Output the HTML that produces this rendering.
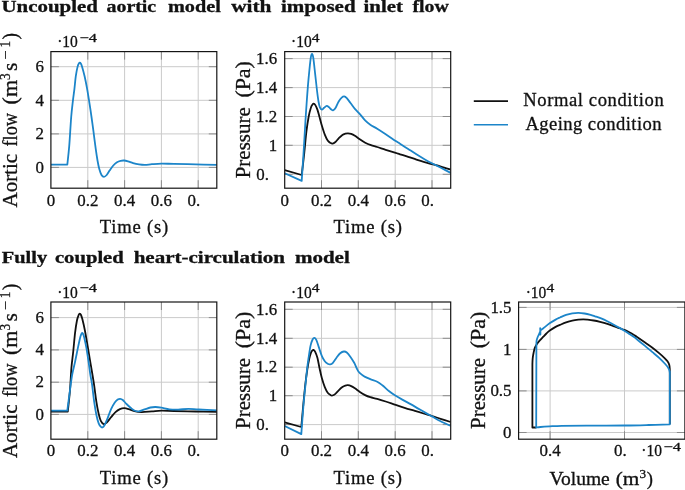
<!DOCTYPE html>
<html><head><meta charset="utf-8"><title>Aortic model figures</title>
<style>html,body{margin:0;padding:0;background:#fff}svg{display:block}text{filter:grayscale(1);stroke:#111;stroke-width:0.3px}text{font-family:"Liberation Serif",serif;fill:#111}</style>
</head><body>
<svg width="685" height="490" viewBox="0 0 685 490">
<rect width="685" height="490" fill="#fff"/>
<text x="1.50" y="12.40" font-size="16.50" font-weight="bold" textLength="96.40" lengthAdjust="spacingAndGlyphs">Uncoupled</text>
<text x="106.60" y="12.40" font-size="16.50" font-weight="bold" textLength="49.60" lengthAdjust="spacingAndGlyphs">aortic</text>
<text x="167.90" y="12.40" font-size="16.50" font-weight="bold" textLength="52.90" lengthAdjust="spacingAndGlyphs">model</text>
<text x="231.20" y="12.40" font-size="16.50" font-weight="bold" textLength="40.30" lengthAdjust="spacingAndGlyphs">with</text>
<text x="280.90" y="12.40" font-size="16.50" font-weight="bold" textLength="74.70" lengthAdjust="spacingAndGlyphs">imposed</text>
<text x="363.60" y="12.40" font-size="16.50" font-weight="bold" textLength="39.30" lengthAdjust="spacingAndGlyphs">inlet</text>
<text x="412.50" y="12.40" font-size="16.50" font-weight="bold" textLength="36.30" lengthAdjust="spacingAndGlyphs">flow</text>
<text x="1.80" y="262.50" font-size="16.50" font-weight="bold" textLength="45.30" lengthAdjust="spacingAndGlyphs">Fully</text>
<text x="54.90" y="262.50" font-size="16.50" font-weight="bold" textLength="68.90" lengthAdjust="spacingAndGlyphs">coupled</text>
<text x="133.70" y="262.50" font-size="16.50" font-weight="bold" textLength="151.30" lengthAdjust="spacingAndGlyphs">heart-circulation</text>
<text x="294.90" y="262.50" font-size="16.50" font-weight="bold" textLength="54.90" lengthAdjust="spacingAndGlyphs">model</text>
<clipPath id="c1"><rect x="50.90" y="51.60" width="165.90" height="136.60"/></clipPath>
<line x1="87.80" y1="51.60" x2="87.80" y2="188.20" stroke="#cacaca" stroke-width="1"/>
<line x1="124.60" y1="51.60" x2="124.60" y2="188.20" stroke="#cacaca" stroke-width="1"/>
<line x1="161.40" y1="51.60" x2="161.40" y2="188.20" stroke="#cacaca" stroke-width="1"/>
<line x1="198.20" y1="51.60" x2="198.20" y2="188.20" stroke="#cacaca" stroke-width="1"/>
<line x1="50.90" y1="66.70" x2="216.80" y2="66.70" stroke="#cacaca" stroke-width="1"/>
<line x1="50.90" y1="100.30" x2="216.80" y2="100.30" stroke="#cacaca" stroke-width="1"/>
<line x1="50.90" y1="133.90" x2="216.80" y2="133.90" stroke="#cacaca" stroke-width="1"/>
<line x1="50.90" y1="167.40" x2="216.80" y2="167.40" stroke="#cacaca" stroke-width="1"/>
<line x1="87.80" y1="51.60" x2="87.80" y2="59.60" stroke="#8c8c8c" stroke-width="1"/>
<line x1="87.80" y1="188.20" x2="87.80" y2="180.20" stroke="#8c8c8c" stroke-width="1"/>
<line x1="124.60" y1="51.60" x2="124.60" y2="59.60" stroke="#8c8c8c" stroke-width="1"/>
<line x1="124.60" y1="188.20" x2="124.60" y2="180.20" stroke="#8c8c8c" stroke-width="1"/>
<line x1="161.40" y1="51.60" x2="161.40" y2="59.60" stroke="#8c8c8c" stroke-width="1"/>
<line x1="161.40" y1="188.20" x2="161.40" y2="180.20" stroke="#8c8c8c" stroke-width="1"/>
<line x1="198.20" y1="51.60" x2="198.20" y2="59.60" stroke="#8c8c8c" stroke-width="1"/>
<line x1="198.20" y1="188.20" x2="198.20" y2="180.20" stroke="#8c8c8c" stroke-width="1"/>
<line x1="50.90" y1="66.70" x2="58.90" y2="66.70" stroke="#8c8c8c" stroke-width="1"/>
<line x1="216.80" y1="66.70" x2="208.80" y2="66.70" stroke="#8c8c8c" stroke-width="1"/>
<line x1="50.90" y1="100.30" x2="58.90" y2="100.30" stroke="#8c8c8c" stroke-width="1"/>
<line x1="216.80" y1="100.30" x2="208.80" y2="100.30" stroke="#8c8c8c" stroke-width="1"/>
<line x1="50.90" y1="133.90" x2="58.90" y2="133.90" stroke="#8c8c8c" stroke-width="1"/>
<line x1="216.80" y1="133.90" x2="208.80" y2="133.90" stroke="#8c8c8c" stroke-width="1"/>
<line x1="50.90" y1="167.40" x2="58.90" y2="167.40" stroke="#8c8c8c" stroke-width="1"/>
<line x1="216.80" y1="167.40" x2="208.80" y2="167.40" stroke="#8c8c8c" stroke-width="1"/>
<path d="M50.90 164.70C53.63 164.70 64.57 164.70 67.30 164.70C67.62 161.65 68.55 154.35 69.20 146.40C69.85 138.45 70.58 124.60 71.20 117.00C71.82 109.40 72.37 105.45 72.90 100.80C73.43 96.15 73.92 93.20 74.40 89.10C74.88 85.00 75.27 79.95 75.80 76.20C76.33 72.45 77.10 68.70 77.60 66.60C78.10 64.50 78.43 64.25 78.80 63.60C79.17 62.95 79.47 62.72 79.80 62.70C80.13 62.68 80.43 62.88 80.80 63.50C81.17 64.12 81.37 64.28 82.00 66.40C82.63 68.52 83.78 72.67 84.60 76.20C85.42 79.73 86.15 83.50 86.90 87.60C87.65 91.70 88.33 95.90 89.10 100.80C89.87 105.70 90.77 111.85 91.50 117.00C92.23 122.15 92.80 126.43 93.50 131.70C94.20 136.97 95.02 143.72 95.70 148.60C96.38 153.48 97.00 157.58 97.60 161.00C98.20 164.42 98.65 166.77 99.30 169.10C99.95 171.43 100.72 173.72 101.50 175.00C102.28 176.28 103.13 176.80 104.00 176.80C104.87 176.80 105.77 176.03 106.70 175.00C107.63 173.97 108.50 172.18 109.60 170.60C110.70 169.02 112.07 166.90 113.30 165.50C114.53 164.10 115.78 162.98 117.00 162.20C118.22 161.42 119.43 161.08 120.60 160.80C121.77 160.52 122.77 160.42 124.00 160.50C125.23 160.58 126.48 160.87 128.00 161.30C129.52 161.73 131.27 162.58 133.10 163.10C134.93 163.62 137.03 164.10 139.00 164.40C140.97 164.70 142.75 164.93 144.90 164.90C147.05 164.87 149.15 164.42 151.90 164.20C154.65 163.98 157.75 163.65 161.40 163.60C165.05 163.55 168.08 163.77 173.80 163.90C179.52 164.03 188.50 164.25 195.70 164.40C202.90 164.55 213.45 164.73 217.00 164.80" fill="none" stroke="#1c85c9" stroke-width="1.80" stroke-linejoin="round" stroke-linecap="butt" clip-path="url(#c1)"/>
<rect x="50.90" y="51.60" width="165.90" height="136.60" fill="none" stroke="#141414" stroke-width="1.2"/>
<clipPath id="c2"><rect x="284.70" y="51.60" width="166.00" height="136.60"/></clipPath>
<line x1="321.50" y1="51.60" x2="321.50" y2="188.20" stroke="#cacaca" stroke-width="1"/>
<line x1="358.30" y1="51.60" x2="358.30" y2="188.20" stroke="#cacaca" stroke-width="1"/>
<line x1="395.20" y1="51.60" x2="395.20" y2="188.20" stroke="#cacaca" stroke-width="1"/>
<line x1="432.00" y1="51.60" x2="432.00" y2="188.20" stroke="#cacaca" stroke-width="1"/>
<line x1="284.70" y1="58.60" x2="450.70" y2="58.60" stroke="#cacaca" stroke-width="1"/>
<line x1="284.70" y1="87.60" x2="450.70" y2="87.60" stroke="#cacaca" stroke-width="1"/>
<line x1="284.70" y1="116.50" x2="450.70" y2="116.50" stroke="#cacaca" stroke-width="1"/>
<line x1="284.70" y1="145.30" x2="450.70" y2="145.30" stroke="#cacaca" stroke-width="1"/>
<line x1="284.70" y1="174.30" x2="450.70" y2="174.30" stroke="#cacaca" stroke-width="1"/>
<line x1="321.50" y1="51.60" x2="321.50" y2="59.60" stroke="#8c8c8c" stroke-width="1"/>
<line x1="321.50" y1="188.20" x2="321.50" y2="180.20" stroke="#8c8c8c" stroke-width="1"/>
<line x1="358.30" y1="51.60" x2="358.30" y2="59.60" stroke="#8c8c8c" stroke-width="1"/>
<line x1="358.30" y1="188.20" x2="358.30" y2="180.20" stroke="#8c8c8c" stroke-width="1"/>
<line x1="395.20" y1="51.60" x2="395.20" y2="59.60" stroke="#8c8c8c" stroke-width="1"/>
<line x1="395.20" y1="188.20" x2="395.20" y2="180.20" stroke="#8c8c8c" stroke-width="1"/>
<line x1="432.00" y1="51.60" x2="432.00" y2="59.60" stroke="#8c8c8c" stroke-width="1"/>
<line x1="432.00" y1="188.20" x2="432.00" y2="180.20" stroke="#8c8c8c" stroke-width="1"/>
<line x1="284.70" y1="58.60" x2="292.70" y2="58.60" stroke="#8c8c8c" stroke-width="1"/>
<line x1="450.70" y1="58.60" x2="442.70" y2="58.60" stroke="#8c8c8c" stroke-width="1"/>
<line x1="284.70" y1="87.60" x2="292.70" y2="87.60" stroke="#8c8c8c" stroke-width="1"/>
<line x1="450.70" y1="87.60" x2="442.70" y2="87.60" stroke="#8c8c8c" stroke-width="1"/>
<line x1="284.70" y1="116.50" x2="292.70" y2="116.50" stroke="#8c8c8c" stroke-width="1"/>
<line x1="450.70" y1="116.50" x2="442.70" y2="116.50" stroke="#8c8c8c" stroke-width="1"/>
<line x1="284.70" y1="145.30" x2="292.70" y2="145.30" stroke="#8c8c8c" stroke-width="1"/>
<line x1="450.70" y1="145.30" x2="442.70" y2="145.30" stroke="#8c8c8c" stroke-width="1"/>
<line x1="284.70" y1="174.30" x2="292.70" y2="174.30" stroke="#8c8c8c" stroke-width="1"/>
<line x1="450.70" y1="174.30" x2="442.70" y2="174.30" stroke="#8c8c8c" stroke-width="1"/>
<path d="M284.70 170.20L301.70 175.00C302.12 171.45 303.42 160.92 304.20 153.70C304.98 146.48 305.67 137.82 306.40 131.70C307.13 125.58 307.87 120.93 308.60 117.00C309.33 113.07 310.17 110.15 310.80 108.10C311.43 106.05 311.90 105.43 312.40 104.70C312.90 103.97 313.33 103.67 313.80 103.70C314.27 103.73 314.60 103.92 315.20 104.90C315.80 105.88 316.68 107.58 317.40 109.60C318.12 111.62 318.75 114.30 319.50 117.00C320.25 119.70 321.02 122.87 321.90 125.80C322.78 128.73 323.83 132.15 324.80 134.60C325.77 137.05 326.72 139.08 327.70 140.50C328.68 141.92 329.88 142.58 330.70 143.10C331.52 143.62 331.87 143.73 332.60 143.60C333.33 143.47 334.08 143.18 335.10 142.30C336.12 141.42 337.48 139.53 338.70 138.30C339.92 137.07 341.30 135.67 342.40 134.90C343.50 134.13 344.37 133.97 345.30 133.70C346.23 133.43 347.02 133.27 348.00 133.30C348.98 133.33 350.05 133.48 351.20 133.90C352.35 134.32 353.55 134.95 354.90 135.80C356.25 136.65 357.58 137.85 359.30 139.00C361.02 140.15 363.25 141.67 365.20 142.70C367.15 143.73 369.00 144.48 371.00 145.20C373.00 145.92 374.75 146.23 377.20 147.00C379.65 147.77 382.62 148.82 385.70 149.80C388.78 150.78 393.32 152.15 395.70 152.90C398.08 153.65 397.92 153.65 400.00 154.30C402.08 154.95 405.47 155.92 408.20 156.80C410.93 157.68 413.68 158.72 416.40 159.60C419.12 160.48 421.92 161.35 424.50 162.10C427.08 162.85 429.17 163.35 431.90 164.10C434.63 164.85 437.77 165.67 440.90 166.60C444.03 167.53 449.07 169.18 450.70 169.70" fill="none" stroke="#111111" stroke-width="1.80" stroke-linejoin="round" stroke-linecap="butt" clip-path="url(#c2)"/>
<path d="M284.70 173.20L301.70 180.90C302.00 176.37 302.95 162.40 303.50 153.70C304.05 145.00 304.63 134.82 305.00 128.70C305.37 122.58 305.43 121.17 305.70 117.00C305.97 112.83 306.23 108.85 306.60 103.70C306.97 98.55 307.43 91.72 307.90 86.10C308.37 80.48 308.92 74.73 309.40 70.00C309.88 65.27 310.37 60.37 310.80 57.70C311.23 55.03 311.58 53.97 312.00 54.00C312.42 54.03 312.77 54.50 313.30 57.90C313.83 61.30 314.58 68.97 315.20 74.40C315.82 79.83 316.45 85.98 317.00 90.50C317.55 95.02 318.02 98.68 318.50 101.50C318.98 104.32 319.33 106.05 319.90 107.40C320.47 108.75 321.20 109.53 321.90 109.60C322.60 109.67 323.30 108.42 324.10 107.80C324.90 107.18 325.85 105.97 326.70 105.90C327.55 105.83 328.42 106.78 329.20 107.40C329.98 108.02 330.73 109.12 331.40 109.60C332.07 110.08 332.47 110.67 333.20 110.30C333.93 109.93 334.88 108.87 335.80 107.40C336.72 105.93 337.72 103.13 338.70 101.50C339.68 99.87 340.78 98.45 341.70 97.60C342.62 96.75 343.35 96.30 344.20 96.40C345.05 96.50 345.75 97.10 346.80 98.20C347.85 99.30 349.15 101.22 350.50 103.00C351.85 104.78 353.23 106.93 354.90 108.90C356.57 110.87 358.80 112.88 360.50 114.80C362.20 116.72 363.47 118.75 365.10 120.40C366.73 122.05 368.28 123.32 370.30 124.70C372.32 126.08 374.63 127.12 377.20 128.70C379.77 130.28 382.62 132.15 385.70 134.20C388.78 136.25 393.32 139.42 395.70 141.00C398.08 142.58 397.92 142.37 400.00 143.70C402.08 145.03 405.47 147.23 408.20 149.00C410.93 150.77 413.68 152.60 416.40 154.30C419.12 156.00 421.92 157.70 424.50 159.20C427.08 160.70 430.12 162.35 431.90 163.30C433.68 164.25 433.70 164.15 435.20 164.90C436.70 165.65 438.32 166.47 440.90 167.80C443.48 169.13 449.07 172.05 450.70 172.90" fill="none" stroke="#1c85c9" stroke-width="1.80" stroke-linejoin="round" stroke-linecap="butt" clip-path="url(#c2)"/>
<rect x="284.70" y="51.60" width="166.00" height="136.60" fill="none" stroke="#141414" stroke-width="1.2"/>
<clipPath id="c3"><rect x="50.90" y="302.00" width="165.90" height="137.20"/></clipPath>
<line x1="87.80" y1="302.00" x2="87.80" y2="439.20" stroke="#cacaca" stroke-width="1"/>
<line x1="124.60" y1="302.00" x2="124.60" y2="439.20" stroke="#cacaca" stroke-width="1"/>
<line x1="161.40" y1="302.00" x2="161.40" y2="439.20" stroke="#cacaca" stroke-width="1"/>
<line x1="198.20" y1="302.00" x2="198.20" y2="439.20" stroke="#cacaca" stroke-width="1"/>
<line x1="50.90" y1="317.60" x2="216.80" y2="317.60" stroke="#cacaca" stroke-width="1"/>
<line x1="50.90" y1="349.90" x2="216.80" y2="349.90" stroke="#cacaca" stroke-width="1"/>
<line x1="50.90" y1="382.20" x2="216.80" y2="382.20" stroke="#cacaca" stroke-width="1"/>
<line x1="50.90" y1="414.40" x2="216.80" y2="414.40" stroke="#cacaca" stroke-width="1"/>
<line x1="87.80" y1="302.00" x2="87.80" y2="310.00" stroke="#8c8c8c" stroke-width="1"/>
<line x1="87.80" y1="439.20" x2="87.80" y2="431.20" stroke="#8c8c8c" stroke-width="1"/>
<line x1="124.60" y1="302.00" x2="124.60" y2="310.00" stroke="#8c8c8c" stroke-width="1"/>
<line x1="124.60" y1="439.20" x2="124.60" y2="431.20" stroke="#8c8c8c" stroke-width="1"/>
<line x1="161.40" y1="302.00" x2="161.40" y2="310.00" stroke="#8c8c8c" stroke-width="1"/>
<line x1="161.40" y1="439.20" x2="161.40" y2="431.20" stroke="#8c8c8c" stroke-width="1"/>
<line x1="198.20" y1="302.00" x2="198.20" y2="310.00" stroke="#8c8c8c" stroke-width="1"/>
<line x1="198.20" y1="439.20" x2="198.20" y2="431.20" stroke="#8c8c8c" stroke-width="1"/>
<line x1="50.90" y1="317.60" x2="58.90" y2="317.60" stroke="#8c8c8c" stroke-width="1"/>
<line x1="216.80" y1="317.60" x2="208.80" y2="317.60" stroke="#8c8c8c" stroke-width="1"/>
<line x1="50.90" y1="349.90" x2="58.90" y2="349.90" stroke="#8c8c8c" stroke-width="1"/>
<line x1="216.80" y1="349.90" x2="208.80" y2="349.90" stroke="#8c8c8c" stroke-width="1"/>
<line x1="50.90" y1="382.20" x2="58.90" y2="382.20" stroke="#8c8c8c" stroke-width="1"/>
<line x1="216.80" y1="382.20" x2="208.80" y2="382.20" stroke="#8c8c8c" stroke-width="1"/>
<line x1="50.90" y1="414.40" x2="58.90" y2="414.40" stroke="#8c8c8c" stroke-width="1"/>
<line x1="216.80" y1="414.40" x2="208.80" y2="414.40" stroke="#8c8c8c" stroke-width="1"/>
<path d="M50.90 411.60L67.80 411.60C68.17 408.00 69.40 397.27 70.00 390.00C70.60 382.73 70.87 374.37 71.40 368.00C71.93 361.63 72.58 357.68 73.20 351.80C73.82 345.92 74.47 337.95 75.10 332.70C75.73 327.45 76.42 323.22 77.00 320.30C77.58 317.38 78.13 316.30 78.60 315.20C79.07 314.10 79.40 313.73 79.80 313.70C80.20 313.67 80.57 314.07 81.00 315.00C81.43 315.93 81.75 316.72 82.40 319.30C83.05 321.88 84.03 326.07 84.90 330.50C85.77 334.93 86.78 341.13 87.60 345.90C88.42 350.67 89.07 354.75 89.80 359.10C90.53 363.45 91.27 367.58 92.00 372.00C92.73 376.42 93.47 380.63 94.20 385.60C94.93 390.57 95.67 397.15 96.40 401.80C97.13 406.45 97.87 410.32 98.60 413.50C99.33 416.68 99.95 419.13 100.80 420.90C101.65 422.67 102.72 423.82 103.70 424.10C104.68 424.38 105.47 423.75 106.70 422.60C107.93 421.45 109.63 418.95 111.10 417.20C112.57 415.45 114.03 413.45 115.50 412.10C116.97 410.75 118.43 409.75 119.90 409.10C121.37 408.45 122.83 408.20 124.30 408.20C125.77 408.20 127.02 408.60 128.70 409.10C130.38 409.60 132.23 410.70 134.40 411.20C136.57 411.70 138.78 412.07 141.70 412.10C144.62 412.13 148.62 411.63 151.90 411.40C155.18 411.17 157.75 410.77 161.40 410.70C165.05 410.63 168.08 410.87 173.80 411.00C179.52 411.13 188.50 411.37 195.70 411.50C202.90 411.63 213.45 411.75 217.00 411.80" fill="none" stroke="#111111" stroke-width="1.80" stroke-linejoin="round" stroke-linecap="butt" clip-path="url(#c3)"/>
<path d="M50.90 410.60L67.30 410.60C67.75 407.17 69.20 395.93 70.00 390.00C70.80 384.07 71.27 379.65 72.10 375.00C72.93 370.35 74.03 366.62 75.00 362.10C75.97 357.58 77.07 351.88 77.90 347.90C78.73 343.92 79.45 340.47 80.00 338.20C80.55 335.93 80.83 335.18 81.20 334.30C81.57 333.42 81.87 332.93 82.20 332.90C82.53 332.87 82.85 333.27 83.20 334.10C83.55 334.93 83.77 335.60 84.30 337.90C84.83 340.20 85.68 343.87 86.40 347.90C87.12 351.93 87.93 357.58 88.60 362.10C89.27 366.62 89.83 371.32 90.40 375.00C90.97 378.68 91.37 379.73 92.00 384.20C92.63 388.67 93.47 396.67 94.20 401.80C94.93 406.93 95.67 411.45 96.40 415.00C97.13 418.55 97.87 421.15 98.60 423.10C99.33 425.05 100.18 425.97 100.80 426.70C101.42 427.43 101.68 427.73 102.30 427.50C102.92 427.27 103.65 426.77 104.50 425.30C105.35 423.83 106.30 421.40 107.40 418.70C108.50 416.00 109.87 411.80 111.10 409.10C112.33 406.40 113.70 404.08 114.80 402.50C115.90 400.92 116.80 400.22 117.70 399.60C118.60 398.98 119.35 398.73 120.20 398.80C121.05 398.87 121.75 399.13 122.80 400.00C123.85 400.87 125.15 402.67 126.50 404.00C127.85 405.33 129.58 406.92 130.90 408.00C132.22 409.08 133.08 409.93 134.40 410.50C135.72 411.07 137.10 411.58 138.80 411.40C140.50 411.22 142.67 410.05 144.60 409.40C146.53 408.75 148.58 407.90 150.40 407.50C152.22 407.10 153.67 406.97 155.50 407.00C157.33 407.03 159.08 407.32 161.40 407.70C163.72 408.08 166.60 408.98 169.40 409.30C172.20 409.62 175.03 409.67 178.20 409.60C181.37 409.53 185.00 408.92 188.40 408.90C191.80 408.88 193.83 409.25 198.60 409.50C203.37 409.75 213.93 410.25 217.00 410.40" fill="none" stroke="#1c85c9" stroke-width="1.80" stroke-linejoin="round" stroke-linecap="butt" clip-path="url(#c3)"/>
<rect x="50.90" y="302.00" width="165.90" height="137.20" fill="none" stroke="#141414" stroke-width="1.2"/>
<clipPath id="c4"><rect x="284.70" y="302.00" width="166.00" height="137.20"/></clipPath>
<line x1="321.50" y1="302.00" x2="321.50" y2="439.20" stroke="#cacaca" stroke-width="1"/>
<line x1="358.30" y1="302.00" x2="358.30" y2="439.20" stroke="#cacaca" stroke-width="1"/>
<line x1="395.20" y1="302.00" x2="395.20" y2="439.20" stroke="#cacaca" stroke-width="1"/>
<line x1="432.00" y1="302.00" x2="432.00" y2="439.20" stroke="#cacaca" stroke-width="1"/>
<line x1="284.70" y1="309.30" x2="450.70" y2="309.30" stroke="#cacaca" stroke-width="1"/>
<line x1="284.70" y1="338.30" x2="450.70" y2="338.30" stroke="#cacaca" stroke-width="1"/>
<line x1="284.70" y1="367.20" x2="450.70" y2="367.20" stroke="#cacaca" stroke-width="1"/>
<line x1="284.70" y1="395.70" x2="450.70" y2="395.70" stroke="#cacaca" stroke-width="1"/>
<line x1="284.70" y1="424.60" x2="450.70" y2="424.60" stroke="#cacaca" stroke-width="1"/>
<line x1="321.50" y1="302.00" x2="321.50" y2="310.00" stroke="#8c8c8c" stroke-width="1"/>
<line x1="321.50" y1="439.20" x2="321.50" y2="431.20" stroke="#8c8c8c" stroke-width="1"/>
<line x1="358.30" y1="302.00" x2="358.30" y2="310.00" stroke="#8c8c8c" stroke-width="1"/>
<line x1="358.30" y1="439.20" x2="358.30" y2="431.20" stroke="#8c8c8c" stroke-width="1"/>
<line x1="395.20" y1="302.00" x2="395.20" y2="310.00" stroke="#8c8c8c" stroke-width="1"/>
<line x1="395.20" y1="439.20" x2="395.20" y2="431.20" stroke="#8c8c8c" stroke-width="1"/>
<line x1="432.00" y1="302.00" x2="432.00" y2="310.00" stroke="#8c8c8c" stroke-width="1"/>
<line x1="432.00" y1="439.20" x2="432.00" y2="431.20" stroke="#8c8c8c" stroke-width="1"/>
<line x1="284.70" y1="309.30" x2="292.70" y2="309.30" stroke="#8c8c8c" stroke-width="1"/>
<line x1="450.70" y1="309.30" x2="442.70" y2="309.30" stroke="#8c8c8c" stroke-width="1"/>
<line x1="284.70" y1="338.30" x2="292.70" y2="338.30" stroke="#8c8c8c" stroke-width="1"/>
<line x1="450.70" y1="338.30" x2="442.70" y2="338.30" stroke="#8c8c8c" stroke-width="1"/>
<line x1="284.70" y1="367.20" x2="292.70" y2="367.20" stroke="#8c8c8c" stroke-width="1"/>
<line x1="450.70" y1="367.20" x2="442.70" y2="367.20" stroke="#8c8c8c" stroke-width="1"/>
<line x1="284.70" y1="395.70" x2="292.70" y2="395.70" stroke="#8c8c8c" stroke-width="1"/>
<line x1="450.70" y1="395.70" x2="442.70" y2="395.70" stroke="#8c8c8c" stroke-width="1"/>
<line x1="284.70" y1="424.60" x2="292.70" y2="424.60" stroke="#8c8c8c" stroke-width="1"/>
<line x1="450.70" y1="424.60" x2="442.70" y2="424.60" stroke="#8c8c8c" stroke-width="1"/>
<path d="M284.70 422.30L301.30 427.00C301.63 423.28 302.63 411.78 303.30 404.70C303.97 397.62 304.63 390.37 305.30 384.50C305.97 378.63 306.65 373.75 307.30 369.50C307.95 365.25 308.58 361.82 309.20 359.00C309.82 356.18 310.47 354.03 311.00 352.60C311.53 351.17 311.98 350.85 312.40 350.40C312.82 349.95 313.03 349.67 313.50 349.90C313.97 350.13 314.55 350.50 315.20 351.80C315.85 353.10 316.68 355.00 317.40 357.70C318.12 360.40 318.75 364.57 319.50 368.00C320.25 371.43 321.02 375.12 321.90 378.30C322.78 381.48 323.83 384.70 324.80 387.10C325.77 389.50 326.72 391.35 327.70 392.70C328.68 394.05 329.92 394.73 330.70 395.20C331.48 395.67 331.67 395.68 332.40 395.50C333.13 395.32 334.05 394.97 335.10 394.10C336.15 393.23 337.48 391.47 338.70 390.30C339.92 389.13 341.30 387.88 342.40 387.10C343.50 386.32 344.40 385.92 345.30 385.60C346.20 385.28 346.82 385.12 347.80 385.20C348.78 385.28 350.02 385.58 351.20 386.10C352.38 386.62 353.55 387.40 354.90 388.30C356.25 389.20 357.60 390.37 359.30 391.50C361.00 392.63 363.27 394.15 365.10 395.10C366.93 396.05 368.28 396.57 370.30 397.20C372.32 397.83 374.63 398.18 377.20 398.90C379.77 399.62 382.62 400.50 385.70 401.50C388.78 402.50 392.55 403.85 395.70 404.90C398.85 405.95 401.40 406.80 404.60 407.80C407.80 408.80 411.47 409.87 414.90 410.90C418.33 411.93 422.35 413.15 425.20 414.00C428.05 414.85 429.43 415.20 432.00 416.00C434.57 416.80 437.48 417.80 440.60 418.80C443.72 419.80 449.02 421.47 450.70 422.00" fill="none" stroke="#111111" stroke-width="1.80" stroke-linejoin="round" stroke-linecap="butt" clip-path="url(#c4)"/>
<path d="M284.70 426.00L301.30 434.10C301.67 429.20 302.77 413.27 303.50 404.70C304.23 396.13 305.08 388.82 305.70 382.70C306.32 376.58 306.72 372.17 307.20 368.00C307.68 363.83 308.05 361.38 308.60 357.70C309.15 354.02 309.83 348.93 310.50 345.90C311.17 342.87 311.93 340.83 312.60 339.50C313.27 338.17 313.87 337.80 314.50 337.90C315.13 338.00 315.67 338.52 316.40 340.10C317.13 341.68 317.98 344.72 318.90 347.40C319.82 350.08 320.92 353.88 321.90 356.20C322.88 358.52 323.83 360.03 324.80 361.30C325.77 362.57 326.80 363.28 327.70 363.80C328.60 364.32 329.33 364.57 330.20 364.40C331.07 364.23 331.85 363.92 332.90 362.80C333.95 361.68 335.28 359.28 336.50 357.70C337.72 356.12 338.97 354.33 340.20 353.30C341.43 352.27 342.80 351.63 343.90 351.50C345.00 351.37 345.70 351.60 346.80 352.50C347.90 353.40 349.27 355.18 350.50 356.90C351.73 358.62 353.18 360.95 354.20 362.80C355.22 364.65 355.87 366.52 356.60 368.00C357.33 369.48 357.67 370.53 358.60 371.70C359.53 372.87 361.12 374.13 362.20 375.00C363.28 375.87 363.75 376.20 365.10 376.90C366.45 377.60 368.28 378.40 370.30 379.20C372.32 380.00 375.20 380.70 377.20 381.70C379.20 382.70 380.30 383.62 382.30 385.20C384.30 386.78 386.97 389.43 389.20 391.20C391.43 392.97 393.13 394.18 395.70 395.80C398.27 397.42 401.40 399.10 404.60 400.90C407.80 402.70 411.47 404.65 414.90 406.60C418.33 408.55 422.35 410.97 425.20 412.60C428.05 414.23 429.43 414.97 432.00 416.40C434.57 417.83 437.48 419.60 440.60 421.20C443.72 422.80 449.02 425.20 450.70 426.00" fill="none" stroke="#1c85c9" stroke-width="1.80" stroke-linejoin="round" stroke-linecap="butt" clip-path="url(#c4)"/>
<rect x="284.70" y="302.00" width="166.00" height="137.20" fill="none" stroke="#141414" stroke-width="1.2"/>
<clipPath id="c5"><rect x="518.60" y="302.00" width="166.30" height="137.20"/></clipPath>
<line x1="550.10" y1="302.00" x2="550.10" y2="439.20" stroke="#cacaca" stroke-width="1"/>
<line x1="624.50" y1="302.00" x2="624.50" y2="439.20" stroke="#cacaca" stroke-width="1"/>
<line x1="518.60" y1="307.40" x2="684.90" y2="307.40" stroke="#cacaca" stroke-width="1"/>
<line x1="518.60" y1="349.40" x2="684.90" y2="349.40" stroke="#cacaca" stroke-width="1"/>
<line x1="518.60" y1="390.90" x2="684.90" y2="390.90" stroke="#cacaca" stroke-width="1"/>
<line x1="518.60" y1="432.50" x2="684.90" y2="432.50" stroke="#cacaca" stroke-width="1"/>
<line x1="550.10" y1="302.00" x2="550.10" y2="310.00" stroke="#8c8c8c" stroke-width="1"/>
<line x1="550.10" y1="439.20" x2="550.10" y2="431.20" stroke="#8c8c8c" stroke-width="1"/>
<line x1="624.50" y1="302.00" x2="624.50" y2="310.00" stroke="#8c8c8c" stroke-width="1"/>
<line x1="624.50" y1="439.20" x2="624.50" y2="431.20" stroke="#8c8c8c" stroke-width="1"/>
<line x1="518.60" y1="307.40" x2="526.60" y2="307.40" stroke="#8c8c8c" stroke-width="1"/>
<line x1="684.90" y1="307.40" x2="676.90" y2="307.40" stroke="#8c8c8c" stroke-width="1"/>
<line x1="518.60" y1="349.40" x2="526.60" y2="349.40" stroke="#8c8c8c" stroke-width="1"/>
<line x1="684.90" y1="349.40" x2="676.90" y2="349.40" stroke="#8c8c8c" stroke-width="1"/>
<line x1="518.60" y1="390.90" x2="526.60" y2="390.90" stroke="#8c8c8c" stroke-width="1"/>
<line x1="684.90" y1="390.90" x2="676.90" y2="390.90" stroke="#8c8c8c" stroke-width="1"/>
<line x1="518.60" y1="432.50" x2="526.60" y2="432.50" stroke="#8c8c8c" stroke-width="1"/>
<line x1="684.90" y1="432.50" x2="676.90" y2="432.50" stroke="#8c8c8c" stroke-width="1"/>
<path d="M536.20 427.50L532.40 427.50L532.40 364.00C532.45 363.05 532.50 360.17 532.70 358.30C532.90 356.43 533.23 354.58 533.60 352.80C533.97 351.02 534.28 349.17 534.90 347.60C535.52 346.03 536.35 344.73 537.30 343.40C538.25 342.07 539.58 340.73 540.60 339.60C541.62 338.47 542.43 337.62 543.40 336.60C544.37 335.58 545.33 334.50 546.40 333.50C547.47 332.50 548.27 331.70 549.80 330.60C551.33 329.50 553.90 327.85 555.60 326.90C557.30 325.95 558.25 325.65 560.00 324.90C561.75 324.15 564.05 323.12 566.10 322.40C568.15 321.68 570.25 321.05 572.30 320.60C574.35 320.15 576.57 319.90 578.40 319.70C580.23 319.50 581.77 319.40 583.30 319.40C584.83 319.40 585.87 319.52 587.60 319.70C589.33 319.88 591.63 320.15 593.70 320.50C595.77 320.85 597.73 321.25 600.00 321.80C602.27 322.35 605.07 323.08 607.30 323.80C609.53 324.52 611.37 325.37 613.40 326.10C615.43 326.83 617.67 327.57 619.50 328.20C621.33 328.83 622.77 329.22 624.40 329.90C626.03 330.58 627.57 331.37 629.30 332.30C631.03 333.23 633.45 334.68 634.80 335.50C636.15 336.32 635.75 336.07 637.40 337.20C639.05 338.33 642.25 340.58 644.70 342.30C647.15 344.02 649.65 345.65 652.10 347.50C654.55 349.35 657.32 351.63 659.40 353.40C661.48 355.17 663.25 356.78 664.60 358.10C665.95 359.42 666.72 360.15 667.50 361.30C668.28 362.45 668.92 363.63 669.30 365.00C669.68 366.37 669.72 368.75 669.80 369.50L669.80 424.30" fill="none" stroke="#111111" stroke-width="1.80" stroke-linejoin="round" stroke-linecap="butt" clip-path="url(#c5)"/>
<path d="M669.80 371.00L669.80 424.30C666.28 424.42 656.22 424.80 648.70 425.00C641.18 425.20 634.48 425.40 624.70 425.50C614.92 425.60 600.48 425.55 590.00 425.60C579.52 425.65 568.53 425.67 561.80 425.80C555.07 425.93 553.17 426.20 549.60 426.40C546.03 426.60 542.63 426.82 540.40 427.00C538.17 427.18 536.90 427.42 536.20 427.50L536.40 344.20C536.43 343.60 536.37 341.83 536.60 340.60C536.83 339.37 537.35 337.97 537.80 336.80C538.25 335.63 538.87 334.57 539.30 333.60C539.73 332.63 540.22 331.43 540.40 331.00L540.40 334.60L540.20 328.20L540.60 330.40C541.07 330.03 541.90 329.38 543.40 328.20C544.90 327.02 547.57 324.73 549.60 323.30C551.63 321.87 553.87 320.57 555.60 319.60C557.33 318.63 558.25 318.28 560.00 317.50C561.75 316.72 564.05 315.58 566.10 314.90C568.15 314.22 570.25 313.73 572.30 313.40C574.35 313.07 576.37 312.88 578.40 312.90C580.43 312.92 582.47 313.17 584.50 313.50C586.53 313.83 588.85 314.43 590.60 314.90C592.35 315.37 593.25 315.72 595.00 316.30C596.75 316.88 599.05 317.58 601.10 318.40C603.15 319.22 605.25 320.18 607.30 321.20C609.35 322.22 611.37 323.38 613.40 324.50C615.43 325.62 617.67 326.87 619.50 327.90C621.33 328.93 622.77 329.70 624.40 330.70C626.03 331.70 627.57 332.75 629.30 333.90C631.03 335.05 633.45 336.62 634.80 337.60C636.15 338.58 635.75 338.47 637.40 339.80C639.05 341.13 642.25 343.58 644.70 345.60C647.15 347.62 649.65 349.82 652.10 351.90C654.55 353.98 657.22 356.08 659.40 358.10C661.58 360.12 663.72 362.37 665.20 364.00C666.68 365.63 667.58 366.75 668.30 367.90C669.02 369.05 669.25 370.05 669.50 370.90C669.75 371.75 669.75 372.65 669.80 373.00" fill="none" stroke="#1c85c9" stroke-width="1.80" stroke-linejoin="round" stroke-linecap="butt" clip-path="url(#c5)"/>
<rect x="518.60" y="302.00" width="166.30" height="137.20" fill="none" stroke="#141414" stroke-width="1.2"/>
<text x="51.00" y="205.80" font-size="16.90" text-anchor="middle" font-weight="normal" >0</text>
<text x="87.80" y="205.80" font-size="16.90" text-anchor="middle" font-weight="normal" >0.2</text>
<text x="124.60" y="205.80" font-size="16.90" text-anchor="middle" font-weight="normal" >0.4</text>
<text x="161.40" y="205.80" font-size="16.90" text-anchor="middle" font-weight="normal" >0.6</text>
<text x="187.60" y="205.80" font-size="16.90" text-anchor="start" font-weight="normal" >0.</text>
<text x="284.70" y="205.80" font-size="16.90" text-anchor="middle" font-weight="normal" >0</text>
<text x="321.50" y="205.80" font-size="16.90" text-anchor="middle" font-weight="normal" >0.2</text>
<text x="358.30" y="205.80" font-size="16.90" text-anchor="middle" font-weight="normal" >0.4</text>
<text x="395.10" y="205.80" font-size="16.90" text-anchor="middle" font-weight="normal" >0.6</text>
<text x="421.30" y="205.80" font-size="16.90" text-anchor="start" font-weight="normal" >0.</text>
<text x="134.00" y="233.00" font-size="18.60" text-anchor="middle" font-weight="normal" textLength="68.60" lengthAdjust="spacing" >Time (s)</text>
<text x="367.70" y="233.00" font-size="18.60" text-anchor="middle" font-weight="normal" textLength="68.60" lengthAdjust="spacing" >Time (s)</text>
<text x="51.00" y="456.40" font-size="16.90" text-anchor="middle" font-weight="normal" >0</text>
<text x="87.80" y="456.40" font-size="16.90" text-anchor="middle" font-weight="normal" >0.2</text>
<text x="124.60" y="456.40" font-size="16.90" text-anchor="middle" font-weight="normal" >0.4</text>
<text x="161.40" y="456.40" font-size="16.90" text-anchor="middle" font-weight="normal" >0.6</text>
<text x="187.60" y="456.40" font-size="16.90" text-anchor="start" font-weight="normal" >0.</text>
<text x="284.70" y="456.40" font-size="16.90" text-anchor="middle" font-weight="normal" >0</text>
<text x="321.50" y="456.40" font-size="16.90" text-anchor="middle" font-weight="normal" >0.2</text>
<text x="358.30" y="456.40" font-size="16.90" text-anchor="middle" font-weight="normal" >0.4</text>
<text x="395.10" y="456.40" font-size="16.90" text-anchor="middle" font-weight="normal" >0.6</text>
<text x="421.30" y="456.40" font-size="16.90" text-anchor="start" font-weight="normal" >0.</text>
<text x="134.00" y="483.60" font-size="18.60" text-anchor="middle" font-weight="normal" textLength="68.60" lengthAdjust="spacing" >Time (s)</text>
<text x="367.70" y="483.60" font-size="18.60" text-anchor="middle" font-weight="normal" textLength="68.60" lengthAdjust="spacing" >Time (s)</text>
<text x="43.90" y="71.90" font-size="16.90" text-anchor="end" font-weight="normal" >6</text>
<text x="43.90" y="105.50" font-size="16.90" text-anchor="end" font-weight="normal" >4</text>
<text x="43.90" y="139.10" font-size="16.90" text-anchor="end" font-weight="normal" >2</text>
<text x="43.90" y="172.60" font-size="16.90" text-anchor="end" font-weight="normal" >0</text>
<text x="43.90" y="322.80" font-size="16.90" text-anchor="end" font-weight="normal" >6</text>
<text x="43.90" y="355.10" font-size="16.90" text-anchor="end" font-weight="normal" >4</text>
<text x="43.90" y="387.40" font-size="16.90" text-anchor="end" font-weight="normal" >2</text>
<text x="43.90" y="419.60" font-size="16.90" text-anchor="end" font-weight="normal" >0</text>
<text x="277.20" y="63.80" font-size="16.90" text-anchor="end" font-weight="normal" >1.6</text>
<text x="277.20" y="92.80" font-size="16.90" text-anchor="end" font-weight="normal" >1.4</text>
<text x="277.20" y="121.70" font-size="16.90" text-anchor="end" font-weight="normal" >1.2</text>
<text x="277.20" y="150.50" font-size="16.90" text-anchor="end" font-weight="normal" >1</text>
<text x="256.20" y="179.50" font-size="16.90" text-anchor="start" font-weight="normal" >0.</text>
<text x="277.20" y="314.50" font-size="16.90" text-anchor="end" font-weight="normal" >1.6</text>
<text x="277.20" y="343.50" font-size="16.90" text-anchor="end" font-weight="normal" >1.4</text>
<text x="277.20" y="372.40" font-size="16.90" text-anchor="end" font-weight="normal" >1.2</text>
<text x="277.20" y="400.90" font-size="16.90" text-anchor="end" font-weight="normal" >1</text>
<text x="256.20" y="429.80" font-size="16.90" text-anchor="start" font-weight="normal" >0.</text>
<text x="511.50" y="312.60" font-size="16.90" text-anchor="end" font-weight="normal" >1.5</text>
<text x="511.50" y="354.60" font-size="16.90" text-anchor="end" font-weight="normal" >1</text>
<text x="511.50" y="396.10" font-size="16.90" text-anchor="end" font-weight="normal" >0.5</text>
<text x="511.50" y="437.70" font-size="16.90" text-anchor="end" font-weight="normal" >0</text>
<text x="550.10" y="456.40" font-size="16.90" text-anchor="middle" font-weight="normal" >0.4</text>
<text x="614.00" y="456.40" font-size="16.90" text-anchor="start" font-weight="normal" >0.</text>
<text x="57.20" y="46.90" font-size="16.90" textLength="20.7" lengthAdjust="spacingAndGlyphs">·10</text><text x="79.50" y="41.60" font-size="12.80" textLength="17.40" lengthAdjust="spacingAndGlyphs">−4</text>
<text x="291.00" y="46.90" font-size="16.90" textLength="20.7" lengthAdjust="spacingAndGlyphs">·10</text><text x="311.70" y="41.60" font-size="12.80" textLength="7.80" lengthAdjust="spacingAndGlyphs">4</text>
<text x="57.20" y="297.50" font-size="16.90" textLength="20.7" lengthAdjust="spacingAndGlyphs">·10</text><text x="79.50" y="292.20" font-size="12.80" textLength="17.40" lengthAdjust="spacingAndGlyphs">−4</text>
<text x="291.00" y="297.50" font-size="16.90" textLength="20.7" lengthAdjust="spacingAndGlyphs">·10</text><text x="311.70" y="292.20" font-size="12.80" textLength="7.80" lengthAdjust="spacingAndGlyphs">4</text>
<text x="525.70" y="297.50" font-size="16.90" textLength="20.7" lengthAdjust="spacingAndGlyphs">·10</text><text x="546.40" y="292.20" font-size="12.80" textLength="7.80" lengthAdjust="spacingAndGlyphs">4</text>
<text x="641.30" y="456.40" font-size="16.90" textLength="20.7" lengthAdjust="spacingAndGlyphs">·10</text><text x="663.60" y="451.10" font-size="12.80" textLength="17.40" lengthAdjust="spacingAndGlyphs">−4</text>
<text x="549.40" y="484.70" font-size="18.60" textLength="60.40" lengthAdjust="spacingAndGlyphs">Volume</text>
<text x="615.80" y="484.70" font-size="18.60" textLength="23.60" lengthAdjust="spacingAndGlyphs">(m</text>
<text x="639.50" y="478.10" font-size="12.60" textLength="6.60" lengthAdjust="spacingAndGlyphs">3</text>
<text x="646.80" y="484.70" font-size="18.60" textLength="6.20" lengthAdjust="spacingAndGlyphs">)</text>
<text transform="translate(16.90 207.50) rotate(-90)" font-size="20.60" textLength="53.60" lengthAdjust="spacingAndGlyphs">Aortic</text>
<text transform="translate(16.90 146.50) rotate(-90)" font-size="20.60" textLength="33.60" lengthAdjust="spacingAndGlyphs">flow</text>
<text transform="translate(16.90 104.40) rotate(-90)" font-size="20.60" textLength="24.40" lengthAdjust="spacingAndGlyphs">(m</text>
<text transform="translate(9.70 79.90) rotate(-90)" font-size="13.60" textLength="6.60" lengthAdjust="spacingAndGlyphs">3</text>
<text transform="translate(16.90 71.00) rotate(-90)" font-size="20.60" textLength="8.40" lengthAdjust="spacingAndGlyphs">s</text>
<text transform="translate(9.70 59.40) rotate(-90)" font-size="13.60" textLength="9.20" lengthAdjust="spacingAndGlyphs">−</text>
<text transform="translate(9.70 47.60) rotate(-90)" font-size="13.60" textLength="6.60" lengthAdjust="spacingAndGlyphs">1</text>
<text transform="translate(16.90 39.60) rotate(-90)" font-size="20.60" textLength="6.60" lengthAdjust="spacingAndGlyphs">)</text>
<text transform="translate(16.90 458.10) rotate(-90)" font-size="20.60" textLength="53.60" lengthAdjust="spacingAndGlyphs">Aortic</text>
<text transform="translate(16.90 397.10) rotate(-90)" font-size="20.60" textLength="33.60" lengthAdjust="spacingAndGlyphs">flow</text>
<text transform="translate(16.90 355.00) rotate(-90)" font-size="20.60" textLength="24.40" lengthAdjust="spacingAndGlyphs">(m</text>
<text transform="translate(9.70 330.50) rotate(-90)" font-size="13.60" textLength="6.60" lengthAdjust="spacingAndGlyphs">3</text>
<text transform="translate(16.90 321.60) rotate(-90)" font-size="20.60" textLength="8.40" lengthAdjust="spacingAndGlyphs">s</text>
<text transform="translate(9.70 310.00) rotate(-90)" font-size="13.60" textLength="9.20" lengthAdjust="spacingAndGlyphs">−</text>
<text transform="translate(9.70 298.20) rotate(-90)" font-size="13.60" textLength="6.60" lengthAdjust="spacingAndGlyphs">1</text>
<text transform="translate(16.90 290.20) rotate(-90)" font-size="20.60" textLength="6.60" lengthAdjust="spacingAndGlyphs">)</text>
<text transform="translate(250.30 178.30) rotate(-90)" font-size="20.60" textLength="71.00" lengthAdjust="spacingAndGlyphs">Pressure</text>
<text transform="translate(250.30 97.60) rotate(-90)" font-size="20.60" textLength="36.40" lengthAdjust="spacingAndGlyphs">(Pa)</text>
<text transform="translate(250.30 428.90) rotate(-90)" font-size="20.60" textLength="71.00" lengthAdjust="spacingAndGlyphs">Pressure</text>
<text transform="translate(250.30 348.20) rotate(-90)" font-size="20.60" textLength="36.40" lengthAdjust="spacingAndGlyphs">(Pa)</text>
<text transform="translate(484.60 428.90) rotate(-90)" font-size="20.60" textLength="71.00" lengthAdjust="spacingAndGlyphs">Pressure</text>
<text transform="translate(484.60 348.20) rotate(-90)" font-size="20.60" textLength="36.40" lengthAdjust="spacingAndGlyphs">(Pa)</text>
<line x1="473.8" y1="101.1" x2="508.0" y2="101.1" stroke="#111111" stroke-width="1.65"/>
<line x1="473.8" y1="124.7" x2="508.0" y2="124.7" stroke="#1c85c9" stroke-width="1.65"/>
<text x="593.50" y="105.70" font-size="18.60" text-anchor="middle" font-weight="normal" textLength="140.50" lengthAdjust="spacing" >Normal condition</text>
<text x="593.50" y="130.10" font-size="18.60" text-anchor="middle" font-weight="normal" textLength="136.00" lengthAdjust="spacing" >Ageing condition</text>
</svg></body></html>
